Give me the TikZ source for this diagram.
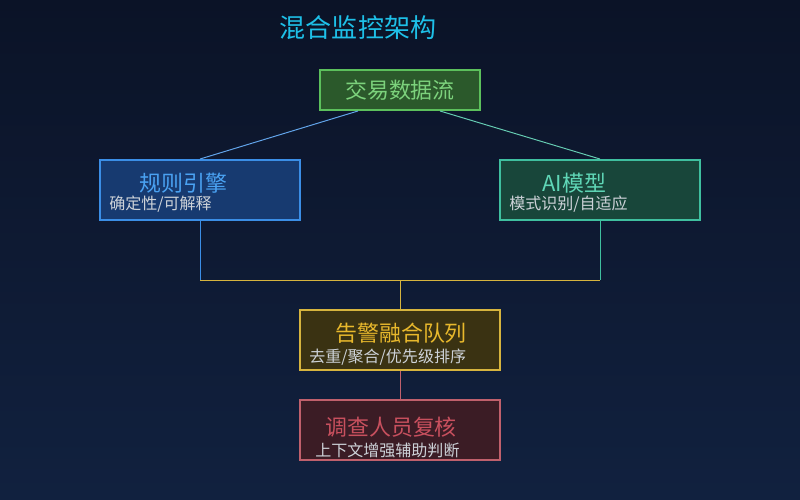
\documentclass[tikz,border=0pt]{standalone}
\usepackage{fontspec}
\setmainfont{Noto Sans CJK SC}
\usetikzlibrary{positioning}

\definecolor{bgTop}{HTML}{0B1327}
\definecolor{bgBot}{HTML}{11213F}
\definecolor{headCol}{HTML}{1EC0E8}
\definecolor{subCol}{HTML}{CDD2D8}
\definecolor{flowFill}{HTML}{2B592B}
\definecolor{flowLine}{HTML}{5CC05C}
\definecolor{flowTxt}{HTML}{7CD27C}
\definecolor{ruleFill}{HTML}{173A70}
\definecolor{ruleLine}{HTML}{3B8EE6}
\definecolor{ruleTxt}{HTML}{4AA2F2}
\definecolor{aiFill}{HTML}{18463A}
\definecolor{aiLine}{HTML}{3FBF9F}
\definecolor{aiTxt}{HTML}{5FD6B6}
\definecolor{fuseFill}{HTML}{3A3212}
\definecolor{fuseLine}{HTML}{D6B43E}
\definecolor{fuseTxt}{HTML}{E8B82C}
\definecolor{revFill}{HTML}{3B1C25}
\definecolor{revLine}{HTML}{C0606C}
\definecolor{revTxt}{HTML}{C8505E}

\begin{document}
\begin{tikzpicture}[
  box/.style={rectangle, line width=1.4pt, minimum width=5cm, minimum height=1.5cm},
  ttl/.style={inner sep=0pt, anchor=west, font=\fontsize{15.6}{18}\selectfont},
  sub/.style={inner sep=0pt, anchor=west, text=subCol, font=\fontsize{11.4}{13}\selectfont},
  link/.style={line width=0.7pt}
]
\useasboundingbox (0,0) rectangle (20,-12.5);
\fill[top color=bgTop, bottom color=bgBot] (0,0) rectangle (20,-12.5);

\node (head) [text=headCol, font=\fontsize{18.5}{22}\selectfont] at (8.95,-0.7) {混合监控架构};

% boxes
\node (flow) [box, draw=flowLine, fill=flowFill, minimum width=4cm, minimum height=1cm,
  text=flowTxt, font=\fontsize{15.6}{18}\selectfont] at (10,-2.25) {交易数据流};
\node (rules) [box, draw=ruleLine, fill=ruleFill] at (5,-4.75) {};
\node (aimodel) [box, draw=aiLine, fill=aiFill] at (15,-4.75) {};
\node (fusion) [box, draw=fuseLine, fill=fuseFill] at (10,-8.5) {};
\node (review) [box, draw=revLine, fill=revFill] at (10,-10.75) {};

% box texts
\node (rulesT) [ttl, text=ruleTxt] at ([xshift=1cm, yshift=0.18cm]rules.west) {规则引擎};
\node (rulesS) [sub] at ([xshift=0.25cm, yshift=-0.35cm]rules.west) {确定性/可解释};
\node (aimodelT) [ttl, text=aiTxt] at ([xshift=1.08cm, yshift=0.18cm]aimodel.west) {AI模型};
\node (aimodelS) [sub] at ([xshift=0.25cm, yshift=-0.35cm]aimodel.west) {模式识别/自适应};
\node (fusionT) [ttl, text=fuseTxt] at ([xshift=0.9cm, yshift=0.17cm]fusion.west) {告警融合队列};
\node (fusionS) [sub] at ([xshift=0.25cm, yshift=-0.43cm]fusion.west) {去重/聚合/优先级排序};
\node (reviewT) [ttl, text=revTxt] at ([xshift=0.65cm, yshift=0.08cm]review.west) {调查人员复核};
\node (reviewS) [sub] at ([xshift=0.4cm, yshift=-0.5cm]review.west) {上下文增强辅助判断};

% connectors
\coordinate (busL) at (5,-7);
\coordinate (busR) at (15,-7);
\coordinate (bus) at (10,-7);
\draw [link, draw=ruleLine!80] ([xshift=-1.05cm]flow.south) -- (rules.north);
\draw [link, draw=aiLine!80] ([xshift=1cm]flow.south) -- (aimodel.north);
\draw [link, draw=ruleLine] (rules.south) -- (busL);
\draw [link, draw=aiLine] (aimodel.south) -- (busR);
\draw [link, draw=fuseLine] (busL) -- (busR);
\draw [link, draw=fuseLine] (bus) -- (fusion.north);
\draw [link, draw=revLine] (fusion.south) -- (review.north);

\end{tikzpicture}
\end{document}
